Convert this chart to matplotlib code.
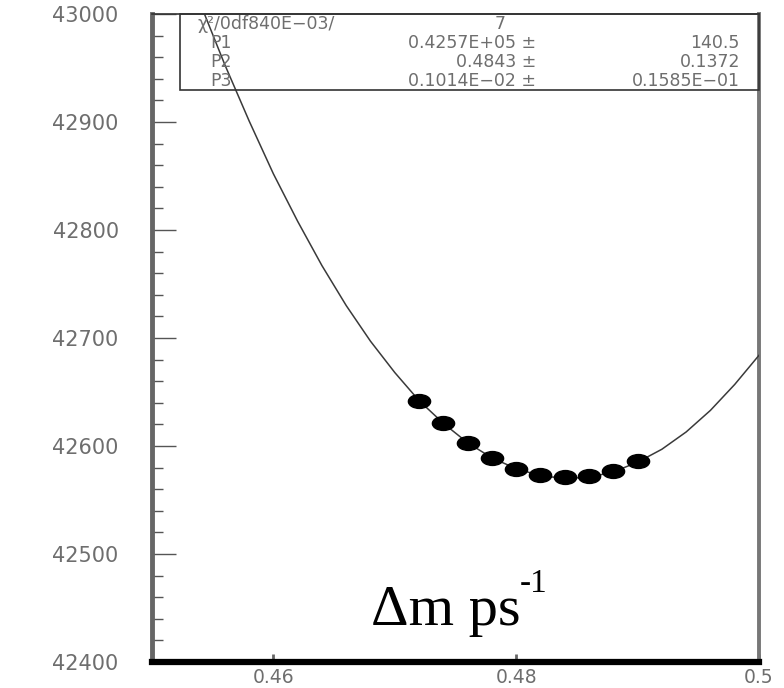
import numpy as np
import matplotlib
matplotlib.use("Agg")
import matplotlib.pyplot as plt
from matplotlib.path import Path
from matplotlib.ticker import MultipleLocator, FixedLocator

# scan points (delta m, -log L)
dm_pts = [0.472, 0.474, 0.476, 0.478, 0.480, 0.482, 0.484, 0.486, 0.488, 0.490]
ll_pts = [42642, 42621, 42603, 42589, 42579, 42573, 42571, 42572, 42577, 42586]

# fitted curve
dm_fit = [0.4535, 0.454, 0.456, 0.458, 0.460, 0.462, 0.464, 0.466, 0.468, 0.470,
          0.472, 0.474, 0.476, 0.478, 0.480, 0.482, 0.484, 0.486, 0.488, 0.490,
          0.492, 0.494, 0.496, 0.498, 0.500]
ll_fit = [43024, 43009, 42953, 42901, 42852, 42808, 42767, 42730, 42697, 42668,
          42642, 42621, 42603, 42589, 42579, 42572.5, 42570, 42571, 42576, 42585,
          42597, 42613, 42633, 42657, 42684]

y_ticks = [42400, 42500, 42600, 42700, 42800, 42900, 43000]
x_ticks = [0.46, 0.48, 0.50]
x_labels = ["0.46", "0.48", "0.5"]

stat_rows = [("P1", "0.4257E+05 \u00b1", "140.5"),
             ("P2", "0.4843 \u00b1", "0.1372"),
             ("P3", "0.1014E\u221202 \u00b1", "0.1585E\u221201")]

GREY = "#6e6e6e"
plt.rcParams["font.family"] = ["DejaVu Sans"]

W, H = 784, 688
fig = plt.figure(figsize=(W / 100, H / 100), dpi=100)
ax = fig.add_axes([152 / W, 1 - 662 / H, (759 - 152) / W, (662 - 14) / H])

ax.plot(dm_fit, ll_fit, color="#3a3a3a", lw=1.1, zorder=4, clip_on=True)
ell = Path.unit_circle().transformed(matplotlib.transforms.Affine2D().scale(1.6, 1.0))
ax.plot(dm_pts, ll_pts, ls="none", marker=ell, ms=16, color="black", zorder=5)

ax.set_xlim(0.45, 0.50)
ax.set_ylim(42400, 43000)
ax.yaxis.set_major_locator(FixedLocator(y_ticks))
ax.yaxis.set_minor_locator(MultipleLocator(20))
ax.xaxis.set_major_locator(FixedLocator(x_ticks))
ax.xaxis.set_minor_locator(MultipleLocator(0.002))
ax.set_xticklabels(x_labels)
ax.tick_params(axis="y", which="major", direction="in", length=17, width=1.0,
               color="#555", pad=24, labelsize=15, labelcolor=GREY)
ax.tick_params(axis="y", which="minor", direction="in", length=8, width=1.0, color="#555")
ax.tick_params(axis="x", which="major", direction="in", length=6, width=2.0,
               color="#666", pad=4, labelsize=13.5, labelcolor=GREY)
ax.tick_params(axis="x", which="minor", direction="in", length=2, width=1.0, color="#999")

ax.spines["left"].set_linewidth(3.5); ax.spines["left"].set_color("#666")
ax.spines["bottom"].set_linewidth(4.5); ax.spines["bottom"].set_color("black")
ax.spines["right"].set_linewidth(2.8); ax.spines["right"].set_color("#777")
ax.spines["top"].set_linewidth(1.2); ax.spines["top"].set_color("#333")

# stats box (fig pixel coords)
def fx(px): return px / W
def fy(py): return 1 - py / H
fig.patches.append(matplotlib.patches.Rectangle((fx(180), fy(90)), fx(759) - fx(180), fy(14) - fy(90),
                   transform=fig.transFigure, fill=False, ec="#333", lw=1.2, zorder=3))
fs = 12.5
fig.text(fx(197), fy(24), "\u03c7\u00b2/0df840E\u221203/", color=GREY, fontsize=fs, va="center", ha="left")
fig.text(fx(506), fy(24), "7", color=GREY, fontsize=fs, va="center", ha="right")
for i, (name, val, err) in enumerate(stat_rows):
    yy = fy(43 + 19 * i)
    fig.text(fx(210), yy, name, color=GREY, fontsize=fs, va="center", ha="left")
    fig.text(fx(536), yy, val, color=GREY, fontsize=fs, va="center", ha="right")
    fig.text(fx(740), yy, err, color=GREY, fontsize=fs, va="center", ha="right")

fig.text(fx(371), fy(625), "\u0394m ps", family="Liberation Serif",
         fontsize=42, color="black", ha="left", va="baseline")
fig.text(fx(520), fy(592), "-1", family="Liberation Serif",
         fontsize=24, color="black", ha="left", va="baseline")

fig.savefig("out.png", dpi=100, facecolor="white")
